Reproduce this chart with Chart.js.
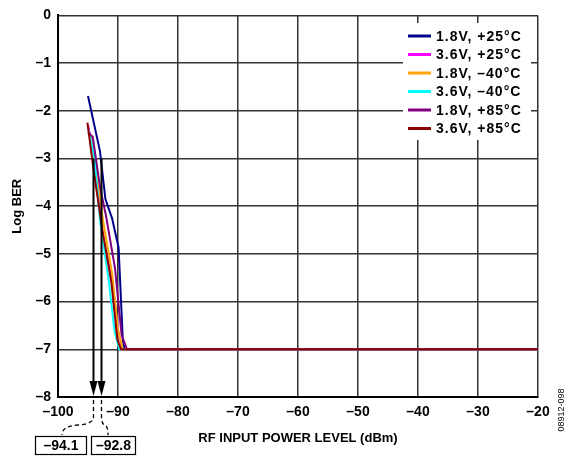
<!DOCTYPE html>
<html>
<head>
<meta charset="utf-8">
<script src="https://cdn.jsdelivr.net/npm/chart.js@4/dist/chart.umd.min.js"></script>
<style>
  html, body { margin: 0; padding: 0; background: #fff; }
  #wrap { width: 568px; height: 456px; position: relative; }
</style>
</head>
<body>
<div id="wrap"><canvas id="chart"></canvas></div>
<script>
// data (RF input power in dBm, log BER)
var seriesNames = ['1.8V, +25°C', '3.6V, +25°C', '1.8V, –40°C', '3.6V, –40°C', '1.8V, +85°C', '3.6V, +85°C'];
var seriesColors = ['#00008b', '#ff00ff', '#ffa500', '#00ffff', '#800080', '#8b0000'];

var blue25X = [-95.0, -93.0, -92.1, -91.0, -89.9, -89.2, -88.9, -20];
var blue25Y = [-1.69, -2.85, -3.85, -4.25, -4.87, -6.8, -7, -7];
var mag25X = [-95.0, -94.0, -92.6, -91.0, -90.0, -89.3, -20];
var mag25Y = [-2.3, -2.9, -4.6, -5.5, -6.6, -7, -7];
var orangeM40X = [-94.7, -93.6, -92.5, -91.0, -90.0, -89.2, -20];
var orangeM40Y = [-2.5, -3.2, -4.3, -5.4, -6.6, -7, -7];
var cyanM40X = [-94.9, -93.9, -93.0, -91.6, -90.6, -89.8, -20];
var cyanM40Y = [-2.4, -3.0, -4.3, -5.5, -6.6, -7, -7];
var purple85X = [-95.0, -94.2, -93.0, -92.0, -90.5, -89.4, -88.5, -20];
var purple85Y = [-2.45, -2.55, -3.6, -4.2, -5.3, -6.7, -7, -7];
var red85X = [-95.1, -94.0, -92.6, -91.1, -90.1, -89.5, -20];
var red85Y = [-2.25, -3.3, -4.5, -5.6, -6.8, -7, -7];

var allX = [blue25X, mag25X, orangeM40X, cyanM40X, purple85X, red85X];
var allY = [blue25Y, mag25Y, orangeM40Y, cyanM40Y, purple85Y, red85Y];

// sensitivity markers
var markerValues = [-94.1, -92.8];
var markerLabels = ['–94.1', '–92.8'];

var xTicks = [-100, -90, -80, -70, -60, -50, -40, -30, -20];
var yTicks = [0, -1, -2, -3, -4, -5, -6, -7, -8];

function toPoints(xs, ys) {
    var pts = [];
    for (var i = 0; i < xs.length; i++) pts.push({x: xs[i], y: ys[i]});
    return pts;
}

var datasets = [];
for (var i = 0; i < seriesNames.length; i++) {
    datasets.push({
        label: seriesNames[i],
        data: toPoints(allX[i], allY[i]),
        borderColor: seriesColors[i],
        backgroundColor: seriesColors[i],
        borderWidth: 2,
        pointRadius: 0,
        tension: 0,
        fill: false,
        order: seriesNames.length - i   // last series ends up on top
    });
}

function dash(v) { return String(v).replace('-', '–'); }

// legend box drawn inside the plot, with white background
var legendBox = {
    id: 'legendBox',
    afterDatasetsDraw(chart) {
        var ctx = chart.ctx;
        ctx.save();
        ctx.fillStyle = '#fff';
        ctx.fillRect(403, 23, 128, 117);
        ctx.font = 'bold 14px "Liberation Sans", Arial, sans-serif';
        try { ctx.letterSpacing = '1px'; } catch (e) {}
        ctx.textBaseline = 'middle';
        for (var i = 0; i < seriesNames.length; i++) {
            var y = 36 + i * 18.5;
            ctx.strokeStyle = seriesColors[i];
            ctx.lineWidth = 3;
            ctx.beginPath();
            ctx.moveTo(408, y);
            ctx.lineTo(431, y);
            ctx.stroke();
            ctx.fillStyle = '#000';
            ctx.fillText(seriesNames[i], 436, y + 1);
        }
        ctx.restore();
    }
};

// arrows, dashed leaders and value boxes
var markers = {
    id: 'markers',
    afterDraw(chart) {
        var ctx = chart.ctx;
        var xs = chart.scales.x, ys = chart.scales.y;
        var top = ys.getPixelForValue(-3.0);
        var bottom = ys.getPixelForValue(-8);
        ctx.save();
        for (var i = 0; i < markerValues.length; i++) {
            var px = Math.round(xs.getPixelForValue(markerValues[i])) + 0.5;
            ctx.strokeStyle = '#000';
            ctx.fillStyle = '#000';
            ctx.lineWidth = 2;
            ctx.setLineDash([]);
            ctx.beginPath();
            ctx.moveTo(px, top);
            ctx.lineTo(px, bottom - 12);
            ctx.stroke();
            ctx.beginPath();
            ctx.moveTo(px - 4, bottom - 16);
            ctx.lineTo(px + 4, bottom - 16);
            ctx.lineTo(px, bottom - 1);
            ctx.closePath();
            ctx.fill();

            // dashed leader below the axis
            var boxX = i === 0 ? 35 : 91;
            var boxW = i === 0 ? 51 : 44;
            var endX = i === 0 ? 62 : 108;
            ctx.lineWidth = 1.3;
            ctx.setLineDash([4, 3]);
            ctx.beginPath();
            ctx.moveTo(px, bottom + 3);
            ctx.lineTo(px, bottom + 20);
            ctx.quadraticCurveTo(px, bottom + 27, (px + endX) / 2, bottom + 28);
            ctx.quadraticCurveTo(endX, bottom + 29, endX, bottom + 38);
            ctx.stroke();

            ctx.setLineDash([]);
            ctx.lineWidth = 1.2;
            ctx.fillStyle = '#fff';
            ctx.fillRect(boxX, 436, boxW, 19);
            ctx.strokeRect(boxX + 0.5, 436.5, boxW, 18);
            ctx.fillStyle = '#000';
            ctx.font = 'bold 14px "Liberation Sans", Arial, sans-serif';
            ctx.textAlign = 'center';
            ctx.textBaseline = 'middle';
            ctx.fillText(markerLabels[i], boxX + boxW / 2 + 0.5, 446.5);
        }
        // figure number on the right edge
        ctx.translate(562, 410);
        ctx.rotate(-Math.PI / 2);
        ctx.font = '9px "Liberation Sans", Arial, sans-serif';
        ctx.textAlign = 'center';
        ctx.textBaseline = 'middle';
        ctx.fillStyle = '#000';
        ctx.fillText('08912-098', 0, 0);
        ctx.restore();
    }
};

var tickFont = {family: '"Liberation Sans", Arial, sans-serif', size: 14, weight: 'bold'};
var titleFont = {family: '"Liberation Sans", Arial, sans-serif', size: 13, weight: 'bold'};

new Chart(document.getElementById('chart'), {
    type: 'line',
    data: {datasets: datasets},
    options: {
        responsive: true,
        maintainAspectRatio: false,
        animation: false,
        layout: {padding: {top: 13, right: 30, left: 0, bottom: 0}},
        plugins: {
            legend: {display: false},
            tooltip: {enabled: false}
        },
        scales: {
            x: {
                type: 'linear',
                min: -100,
                max: -20,
                afterBuildTicks(scale) { scale.ticks = xTicks.map(function(v) { return {value: v}; }); },
                afterFit(scale) { scale.height = 59; },
                ticks: {
                    color: '#000',
                    font: tickFont,
                    padding: 7,
                    maxRotation: 0,
                    callback: function(v) { return dash(v); }
                },
                grid: {color: '#333', lineWidth: 1.5, drawTicks: false},
                border: {color: '#000', width: 2},
                title: {
                    display: true,
                    text: 'RF INPUT POWER LEVEL (dBm)',
                    color: '#000',
                    font: titleFont,
                    padding: {top: 0, bottom: 10}
                }
            },
            y: {
                type: 'linear',
                min: -8,
                max: 0,
                afterBuildTicks(scale) { scale.ticks = yTicks.map(function(v) { return {value: v}; }); },
                afterFit(scale) { scale.width = 58; },
                ticks: {
                    color: '#000',
                    font: tickFont,
                    padding: 7,
                    callback: function(v) { return dash(v); }
                },
                grid: {color: '#333', lineWidth: 1.5, drawTicks: false},
                border: {color: '#000', width: 2},
                title: {
                    display: true,
                    text: 'Log BER',
                    color: '#000',
                    font: titleFont,
                    padding: {top: 10, bottom: 0}
                }
            }
        }
    },
    plugins: [legendBox, markers]
});
</script>
</body>
</html>
